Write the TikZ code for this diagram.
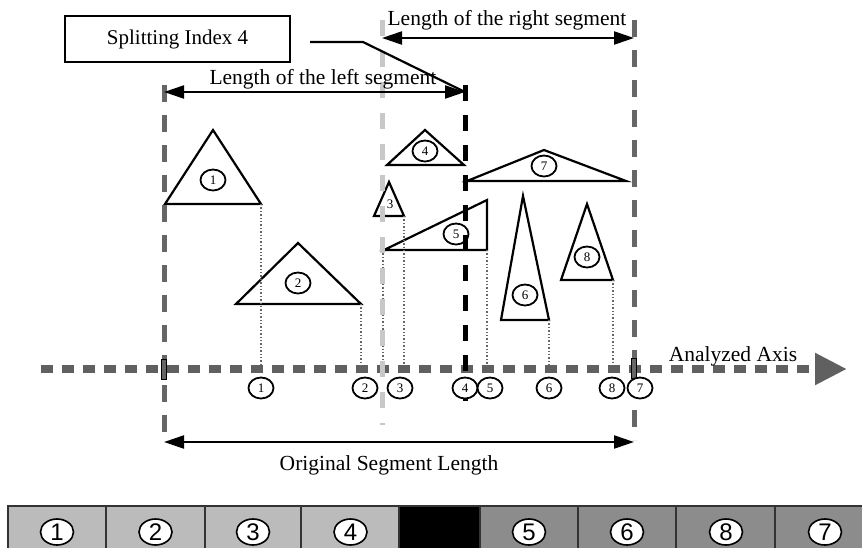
\documentclass[tikz,border=0pt]{standalone}
\usepackage{fontspec}
\setmainfont{Liberation Serif}
\newfontfamily\barfont{Liberation Sans}
\usetikzlibrary{arrows.meta,shapes.geometric}
\definecolor{darkg}{HTML}{666666}
\definecolor{lightg}{HTML}{C8C8C8}
\definecolor{axisg}{HTML}{606060}
\definecolor{celllight}{HTML}{BBBBBB}
\definecolor{celldark}{HTML}{8C8C8C}
\begin{document}
\begin{tikzpicture}[x=1pt,y=-1pt,
  tri/.style={draw=black, line width=2.2pt, line join=miter},
  lbl/.style={ellipse, draw=black, fill=white, line width=1.8pt, minimum width=25pt, minimum height=21pt, inner sep=0pt, font=\fontsize{13}{13}\selectfont},
  tlbl/.style={ellipse, draw=black, line width=1.8pt, minimum width=25pt, minimum height=21pt, inner sep=0pt, font=\fontsize{13}{13}\selectfont},
  drop/.style={draw=gray!80!black, dotted, line width=1.4pt},
  seg/.style={line width=2.2pt, {Triangle[length=20pt,width=13pt]}-{Triangle[length=20pt,width=13pt]}},
  txt/.style={inner sep=0pt, font=\fontsize{21.5}{24}\selectfont},
  vdash/.style={line width=5pt, dash pattern=on 17pt off 13pt},
  cell/.style={draw=black!80, line width=1.2pt},
  bnum/.style={ellipse, draw=black, fill=white, line width=1.6pt, minimum width=33pt, minimum height=26pt, inner sep=0pt, font=\barfont\fontsize{24}{24}\selectfont},
  axmark/.style={draw=black, fill=darkg, line width=0.8pt}
]
\useasboundingbox (0,0) rectangle (862,547);

% axis
\coordinate (axS) at (41,369);
\coordinate (axE) at (847,369);
\draw[axisg, line width=8pt, dash pattern=on 12pt off 9pt, -{Triangle[length=32pt,width=30pt]}] (axS) -- (axE);
\node[txt] (axlbl) at (733,356) {Analyzed Axis};

% triangles
\coordinate (t1l) at (165,204); \coordinate (t1a) at (213,130); \coordinate (t1r) at (261,204);
\coordinate (t2l) at (236,304); \coordinate (t2a) at (298,243); \coordinate (t2r) at (361,304);
\coordinate (t3l) at (374,216); \coordinate (t3a) at (389,182); \coordinate (t3r) at (404,216);
\coordinate (t4l) at (387,165); \coordinate (t4a) at (425,130); \coordinate (t4r) at (464,165);
\coordinate (t5l) at (384,250); \coordinate (t5a) at (487,200); \coordinate (t5r) at (487,250);
\coordinate (t6l) at (501,320); \coordinate (t6a) at (523,196); \coordinate (t6r) at (549,320);
\coordinate (t7l) at (467,181); \coordinate (t7a) at (544,150); \coordinate (t7r) at (626,181);
\coordinate (t8l) at (561,280); \coordinate (t8a) at (587,204); \coordinate (t8r) at (613,280);
\foreach \t in {1,...,8}{\draw[tri] (t\t l) -- (t\t a) -- (t\t r) -- cycle;}

\node[tlbl] (c1) at (213,180) {1};
\node[tlbl] (c2) at (298,283) {2};
\node[inner sep=0pt, font=\fontsize{13}{13}\selectfont] (c3) at (390,204) {3};
\node[tlbl] (c4) at (425,151) {4};
\node[tlbl] (c5) at (456,234) {5};
\node[tlbl] (c6) at (525,295) {6};
\node[tlbl] (c7) at (544,166) {7};
\node[tlbl] (c8) at (587,257) {8};

% drop lines
\coordinate (d1) at (261,366); \coordinate (d2) at (361,366); \coordinate (d3) at (404,366);
\coordinate (d5l) at (383,366); \coordinate (d5) at (487,366); \coordinate (d6) at (549,366);
\coordinate (d8) at (613,366);
\draw[drop] (t1r) -- (d1);
\draw[drop] (t2r) -- (d2);
\draw[drop] (t3r) -- (d3);
\draw[drop] ([xshift=-1pt]t5l) -- (d5l);
\draw[drop] (t5r) -- (d5);
\draw[drop] (t6r) -- (d6);
\draw[drop] (t8r) -- (d8);

% vertical dashed lines
\coordinate (vLt) at (164,85);  \coordinate (vLb) at (164,440);
\coordinate (vRt) at (634,20);  \coordinate (vRb) at (634,440);
\coordinate (vGt) at (382,20);  \coordinate (vGb) at (382,425);
\coordinate (vBt) at (465,85);  \coordinate (vBb) at (465,410);
\draw[vdash, darkg] (vLt) -- (vLb);
\draw[vdash, darkg] (vRt) -- (vRb);
\draw[vdash, lightg, dash pattern=on 16pt off 15pt] (vGt) -- (vGb);
\draw[vdash, black, dash pattern=on 16pt off 14pt] (vBt) -- (vBb);
\draw[axmark] (161.5,359) rectangle (166.5,379);
\draw[axmark] (631.5,358) rectangle (636.5,378);

% axis labels
\node[lbl] (a1) at (261,388) {1};
\node[lbl] (a2) at (365,388) {2};
\node[lbl] (a3) at (400,388) {3};
\node[lbl] (a4) at (465,388) {4};
\node[lbl] (a5) at (490,388) {5};
\node[lbl] (a6) at (549,388) {6};
\node[lbl] (a8) at (612,388) {8};
\node[lbl] (a7) at (640,388) {7};

% segment arrows
\coordinate (lsL) at (164,92); \coordinate (lsR) at (465,92);
\draw[seg] (lsL) -- (lsR);
\node[txt] (lslbl) at (323,79) {Length of the left segment};
\coordinate (rsL) at (382,38); \coordinate (rsR) at (634,38);
\draw[seg] (rsL) -- (rsR);
\node[txt] (rslbl) at (507,20) {Length of the right segment};
\coordinate (osL) at (164,442); \coordinate (osR) at (634,442);
\draw[seg] (osL) -- (osR);
\node[txt] (oslbl) at (389,465) {Original Segment Length};

% splitting index box
\node[draw=black, line width=1.5pt, minimum width=225pt, minimum height=46pt, inner sep=0pt, font=\fontsize{21}{24}\selectfont] (split) at (177.5,39) {Splitting Index 4};
\coordinate (p0) at (310,42); \coordinate (p1) at (363,42);
\draw[line width=2.2pt] (p0) -- (p1) -- (lsR);

% bottom bar
\foreach \a/\b/\c in {8/106/celllight,106/205/celllight,205/301/celllight,301/399/celllight,399/480/black,480/578/celldark,578/676/celldark,676/775/celldark,775/875/celldark}{
  \draw[cell, fill=\c] (\a,506) rectangle (\b,552);
}
\node[bnum] (b1) at (57,532) {1};
\node[bnum] (b2) at (155.5,532) {2};
\node[bnum] (b3) at (253,532) {3};
\node[bnum] (b4) at (350.5,532) {4};
\node[bnum] (b5) at (529,532) {5};
\node[bnum] (b6) at (627,532) {6};
\node[bnum] (b8) at (726,532) {8};
\node[bnum] (b7) at (825,532) {7};
\end{tikzpicture}
\end{document}
